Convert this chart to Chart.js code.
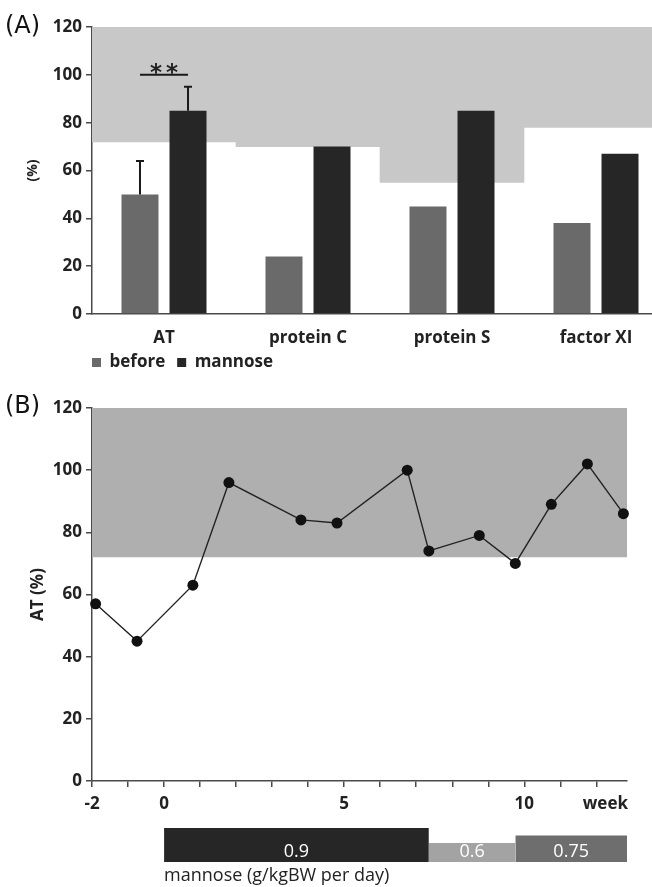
<!DOCTYPE html>
<html>
<head>
<meta charset="utf-8">
<script src="https://cdn.jsdelivr.net/npm/chart.js@4.4.0/dist/chart.umd.min.js"></script>
<style>
  html, body { margin: 0; padding: 0; background: #fff; overflow: hidden; }
  #page { position: relative; width: 652px; height: 887px; overflow: hidden; }
  .panel { position: absolute; left: 0; }
  .tag { position: absolute; left: 5px; font: 24px "DejaVu Sans", sans-serif; color: #111; }
</style>
</head>
<body>
<div id="page">
  <div class="panel" style="top:0;width:680px;height:389px"><canvas id="chartA"></canvas></div>
  <div class="panel" style="top:380px;width:652px;height:445px"><canvas id="chartB"></canvas></div>
  <div class="panel" style="top:820px;width:652px;height:67px"><canvas id="chartC"></canvas></div>
  <div class="tag" style="top:11px">(A)</div>
  <div class="tag" style="top:391px">(B)</div>
</div>
<script>
// panel A: coagulation factors before / on mannose
const factors = ["AT", "protein C", "protein S", "factor XI"];
const before = [50, 24, 45, 38];
const mannose = [85, 70, 85, 67];
const beforeErr = [64, null, null, null];
const mannoseErr = [95, null, null, null];
const refLow = [72, 70, 55, 78];
const refHigh = 120;
const sigLevel = 100;

// panel B: AT over time
const weeks = [-1.9, -0.75, 0.8, 1.8, 3.8, 4.8, 6.75, 7.35, 8.75, 9.75, 10.75, 11.75, 12.75];
const atLevel = [57, 45, 63, 96, 84, 83, 100, 74, 79, 70, 89, 102, 86];
const atRefLow = 72;
const atRefHigh = 120;
const weekMin = -2;
const weekMax = 12.85;
const weekTicks = [-2, 0, 5, 10];

// mannose dose schedule
const doseStart = [0, 7.35, 9.75];
const doseEnd = [7.35, 9.75, 12.85];
const doseValue = [0.9, 0.6, 0.75];
const doseColors = ["#262626", "#a3a3a3", "#6e6e6e"];

Chart.defaults.font.family = "Open Sans";
Chart.defaults.color = "#222";
Chart.defaults.animation = false;
Chart.defaults.events = [];
Chart.defaults.plugins.tooltip.enabled = false;

const tickFont = { family: "Open Sans", weight: "bold", size: 17 };
const axisColor = "#4a4a4a";

const annotateA = {
  id: "annotateA",
  afterLayout(chart) {
    // legend sits right under the labels, starting at the y axis
    chart.legend.left = chart.chartArea.left - chart.legend.options.labels.padding;
    chart.legend.top -= 8;
  },
  afterDatasetsDraw(chart) {
    const { ctx } = chart;
    const y = chart.scales.y;
    ctx.save();
    ctx.strokeStyle = "#1a1a1a";
    ctx.lineWidth = 2;
    [[0, before, beforeErr], [1, mannose, mannoseErr]].forEach(([di, vals, errs]) => {
      const meta = chart.getDatasetMeta(di);
      errs.forEach((e, i) => {
        if (e == null) return;
        const x = meta.data[i].x;
        const top = y.getPixelForValue(e);
        ctx.beginPath();
        ctx.moveTo(x, y.getPixelForValue(vals[i]));
        ctx.lineTo(x, top);
        ctx.moveTo(x - 4, top);
        ctx.lineTo(x + 4, top);
        ctx.stroke();
      });
    });
    const x0 = chart.getDatasetMeta(0).data[0].x;
    const x1 = chart.getDatasetMeta(1).data[0].x;
    const ys = y.getPixelForValue(sigLevel);
    ctx.beginPath();
    ctx.moveTo(x0, ys);
    ctx.lineTo(x1, ys);
    ctx.stroke();
    ctx.fillStyle = "#222";
    ctx.font = 'bold 23px "DejaVu Sans"';
    ctx.letterSpacing = "4px";
    ctx.textAlign = "center";
    ctx.textBaseline = "alphabetic";
    ctx.fillText("**", (x0 + x1) / 2 + 2, ys + 5);
    ctx.restore();
  }
};

new Chart(document.getElementById("chartA"), {
  type: "bar",
  data: {
    labels: factors,
    datasets: [
      { label: "before", data: before, backgroundColor: "#6a6a6a", borderWidth: 0,
        categoryPercentage: 0.667, barPercentage: 0.77, order: 1 },
      { label: "mannose", data: mannose, backgroundColor: "#262626", borderWidth: 0,
        categoryPercentage: 0.667, barPercentage: 0.77, order: 1 },
      { label: "reference", data: refLow.map(v => [v, refHigh]), backgroundColor: "#c8c8c8",
        borderWidth: 0, grouped: false, categoryPercentage: 1, barPercentage: 1, order: 2 }
    ]
  },
  options: {
    responsive: true,
    maintainAspectRatio: false,
    layout: { padding: { top: 27, right: 12, left: 0, bottom: 0 } },
    plugins: {
      legend: {
        position: "bottom",
        align: "start",
        fullSize: false,
        labels: {
          filter: item => item.datasetIndex < 2,
          boxWidth: 9,
          boxHeight: 9,
          padding: 12,
          font: tickFont,
          color: "#222"
        }
      }
    },
    scales: {
      x: {
        grid: { display: false, drawTicks: false },
        border: { color: axisColor, width: 1.5 },
        ticks: { font: tickFont, color: "#222", padding: 14 },
        afterFit: s => { s.height = 36; }
      },
      y: {
        min: 0,
        max: 120,
        ticks: { stepSize: 20, font: tickFont, color: "#222", padding: 4 },
        grid: { drawOnChartArea: false, tickLength: 6, color: axisColor, lineWidth: 1.5 },
        border: { color: axisColor, width: 1.5 },
        title: { display: true, text: "(%)", font: { family: "Open Sans", weight: "bold", size: 14 },
          color: "#222", padding: { top: 25, bottom: 0 } },
        afterFit: s => { s.width = 92; }
      }
    }
  },
  plugins: [annotateA]
});

const weekLabel = {
  id: "weekLabel",
  afterDraw(chart) {
    const { ctx, chartArea } = chart;
    const x = chart.scales.x;
    ctx.save();
    ctx.font = 'bold 17px "Open Sans"';
    ctx.fillStyle = "#222";
    ctx.textAlign = "right";
    ctx.textBaseline = "middle";
    ctx.fillText("week", chartArea.right + 1, x.top + 6 + 7 + 10.2);
    ctx.restore();
  }
};

new Chart(document.getElementById("chartB"), {
  type: "line",
  data: {
    datasets: [
      { label: "AT", data: weeks.map((w, i) => ({ x: w, y: atLevel[i] })),
        borderColor: "#222", borderWidth: 1.4, pointRadius: 5.5, pointBackgroundColor: "#111",
        pointBorderColor: "#111", pointBorderWidth: 0, tension: 0, clip: false, order: 1 },
      { label: "reference", data: [{ x: weekMin, y: atRefHigh }, { x: weekMax, y: atRefHigh }],
        borderWidth: 0, pointRadius: 0, fill: { value: atRefLow }, backgroundColor: "#afafaf", order: 2 }
    ]
  },
  options: {
    responsive: true,
    maintainAspectRatio: false,
    layout: { padding: { top: 28, right: 25, left: 0, bottom: 0 } },
    plugins: { legend: { display: false } },
    scales: {
      x: {
        type: "linear",
        min: weekMin,
        max: weekMax,
        ticks: { stepSize: 1, includeBounds: false, autoSkip: false, maxRotation: 0, padding: 7,
          font: tickFont, color: "#222", callback: v => (weekTicks.includes(v) ? String(v) : "") },
        grid: { drawOnChartArea: false, tickLength: 6, color: axisColor, lineWidth: 1.5 },
        border: { color: axisColor, width: 1.5 },
        afterFit: s => { s.height = 44; }
      },
      y: {
        min: 0,
        max: 120,
        ticks: { stepSize: 20, font: tickFont, color: "#222", padding: 4 },
        grid: { drawOnChartArea: false, tickLength: 6, color: axisColor, lineWidth: 1.5 },
        border: { color: axisColor, width: 1.5 },
        title: { display: true, text: "AT (%)", font: { family: "Open Sans", weight: "bold", size: 17 },
          color: "#222", padding: { top: 28, bottom: 0 } },
        afterFit: s => { s.width = 92; }
      }
    }
  },
  plugins: [weekLabel]
});

const doseLabels = {
  id: "doseLabels",
  afterDatasetsDraw(chart) {
    const { ctx, chartArea } = chart;
    const x = chart.scales.x;
    ctx.save();
    ctx.font = '18px "Open Sans"';
    ctx.fillStyle = "#fff";
    ctx.textAlign = "center";
    ctx.textBaseline = "middle";
    doseValue.forEach((d, i) => {
      const cx = (x.getPixelForValue(doseStart[i]) + x.getPixelForValue(doseEnd[i])) / 2;
      ctx.fillText(String(d), cx, chartArea.bottom - 10);
    });
    ctx.fillStyle = "#222";
    ctx.font = '18px "Open Sans"';
    ctx.textAlign = "left";
    ctx.fillText("mannose (g/kgBW per day)", x.getPixelForValue(0), chartArea.bottom + 14);
    ctx.restore();
  }
};

new Chart(document.getElementById("chartC"), {
  type: "line",
  data: {
    datasets: doseValue.map((d, i) => ({
      label: String(d),
      data: [{ x: doseStart[i], y: d }, { x: doseEnd[i], y: d }],
      fill: "start",
      backgroundColor: doseColors[i],
      borderWidth: 0,
      pointRadius: 0
    }))
  },
  options: {
    responsive: true,
    maintainAspectRatio: false,
    layout: { padding: { top: 8, right: 25, left: 92, bottom: 25 } },
    plugins: { legend: { display: false } },
    scales: {
      x: { type: "linear", min: weekMin, max: weekMax, display: false },
      // lower bound picked so bar heights look like the original schedule graphic
      y: { min: 0.22, max: 0.9, display: false }
    }
  },
  plugins: [doseLabels]
});
</script>
</body>
</html>
